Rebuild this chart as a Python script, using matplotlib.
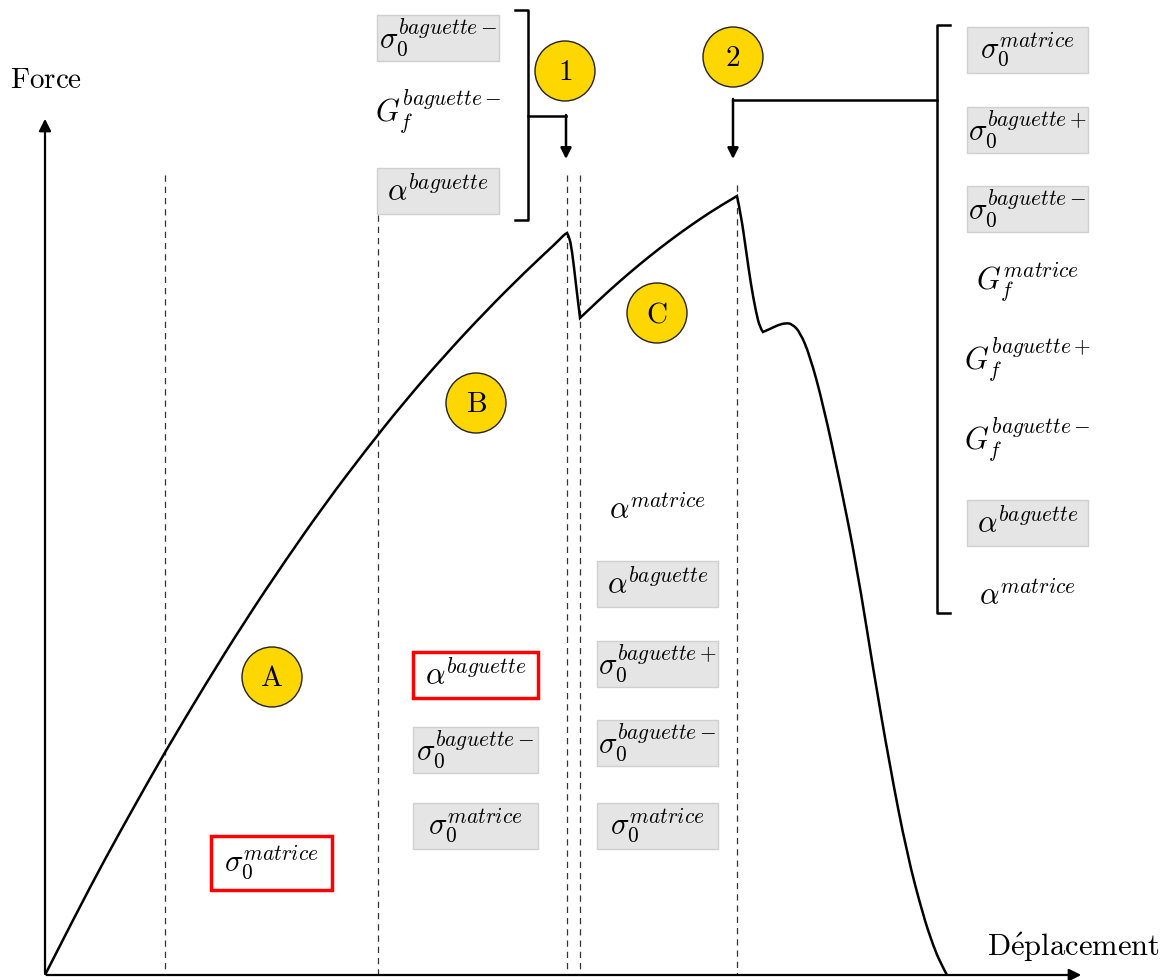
import matplotlib.pyplot as plt
from matplotlib.patches import Rectangle, Circle, PathPatch
from matplotlib.path import Path

plt.rcParams['mathtext.fontset'] = 'cm'

# force-displacement curve (image pixel coords, y down)
curve_x = [45, 75, 105, 135, 165, 205, 245, 285, 325, 365, 405, 445, 485, 525, 555, 561, 565, 567,
           569, 572, 576, 580,
           600, 620, 640, 660, 680, 700, 720, 737,
           741, 746, 751, 756, 760, 763, 770, 778, 786, 792, 800, 810, 823, 840, 857,
           873, 890, 907, 923, 933, 940, 947]
curve_y = [975, 916, 859, 805, 752, 685, 621, 561, 504, 451, 401, 355, 312, 272, 244, 238, 234, 233,
           236, 250, 285, 318,
           299, 281, 264, 248, 233, 219, 206, 196,
           215, 250, 285, 312, 328, 332, 329, 325, 323, 324, 332, 356, 404, 482, 568,
           668, 767, 854, 915, 945, 962, 975]
# kinks of the curve (peaks and drops)
corner_x = [567, 580, 737, 763]

phase_x = [165, 378, 567, 580, 737]
phase_top = [175, 170, 175, 175, 185]

circle_labels = ['A', 'B', 'C', '1', '2']
circle_x = [272, 476, 657, 565, 733]
circle_y = [677, 403, 313, 71, 57]

S0M = r'$\sigma_0^{matrice}$'
S0BP = r'$\sigma_0^{baguette+}$'
S0BM = r'$\sigma_0^{baguette-}$'
GFM = r'$G_f^{matrice}$'
GFBP = r'$G_f^{baguette+}$'
GFBM = r'$G_f^{baguette-}$'
AB = r'$\alpha^{baguette}$'
AM = r'$\alpha^{matrice}$'

# (label, style) for each group: g = grey box, r = red box, n = plain
col_a = [(S0M, 'r')]
col_b = [(AB, 'r'), (S0BM, 'g'), (S0M, 'g')]
col_c = [(AM, 'n'), (AB, 'g'), (S0BP, 'g'), (S0BM, 'g'), (S0M, 'g')]
grp_1 = [(S0BM, 'g'), (GFBM, 'n'), (AB, 'g')]
grp_2 = [(S0M, 'g'), (S0BP, 'g'), (S0BM, 'g'), (GFM, 'n'), (GFBP, 'n'), (GFBM, 'n'), (AB, 'g'), (AM, 'n')]

fig = plt.figure(figsize=(11.67, 9.8), dpi=100)
ax = fig.add_axes([0, 0, 1, 1])
ax.set_xlim(0, 1167)
ax.set_ylim(980, 0)
ax.axis('off')

# axes arrows
ax.annotate('', xy=(45, 116), xytext=(45, 976),
            arrowprops=dict(arrowstyle='-|>', lw=1.6, color='black', mutation_scale=18))
ax.annotate('', xy=(1084, 975), xytext=(44, 975),
            arrowprops=dict(arrowstyle='-|>', lw=1.6, color='black', mutation_scale=18))
ax.text(46, 80, r'$\mathrm{Force}$', fontsize=21, ha='center', va='center')
ax.text(1073, 947, r'$\mathrm{D\acute{e}placement}$', fontsize=22, ha='center', va='center')

for x, t in zip(phase_x, phase_top):
    ax.plot([x, x], [t, 975], ls=(0, (5, 4)), lw=0.9, color='#333333', zorder=1)


def smooth_path(xs, ys, corners):
    # quadratic bezier through midpoints, kept sharp at the corners
    pts = list(zip(xs, ys))
    segs, cur = [], [pts[0]]
    for p in pts[1:]:
        cur.append(p)
        if p[0] in corners:
            segs.append(cur)
            cur = [p]
    if len(cur) > 1:
        segs.append(cur)
    verts, codes = [pts[0]], [Path.MOVETO]
    for s in segs:
        if len(s) == 2:
            verts.append(s[1])
            codes.append(Path.LINETO)
            continue
        for i in range(1, len(s) - 1):
            if i == len(s) - 2:
                end = s[i + 1]
            else:
                end = ((s[i][0] + s[i + 1][0]) / 2, (s[i][1] + s[i + 1][1]) / 2)
            verts += [s[i], end]
            codes += [Path.CURVE3, Path.CURVE3]
    return Path(verts, codes)


ax.add_patch(PathPatch(smooth_path(curve_x, curve_y, corner_x), fill=False,
                       edgecolor='black', lw=1.8, zorder=3))

for lab, x, y in zip(circle_labels, circle_x, circle_y):
    ax.add_patch(Circle((x, y), 30, facecolor='#FFD700', edgecolor='#222222', lw=1, zorder=4))
    ax.text(x, y + 1, r'$\mathrm{%s}$' % lab, fontsize=21, ha='center', va='center', zorder=5)


def draw_group(items, x0, w, ys, h=46):
    for (lab, style), yc in zip(items, ys):
        if style == 'g':
            ax.add_patch(Rectangle((x0, yc - h / 2), w, h, facecolor='#E5E5E5',
                                   edgecolor='#CFCFCF', lw=1, zorder=4))
        elif style == 'r':
            ax.add_patch(Rectangle((x0, yc - h / 2), w, h, facecolor='white',
                                   edgecolor='red', lw=2.5, zorder=4))
        ax.text(x0 + w / 2, yc, lab, fontsize=22, ha='center', va='center', zorder=5)


draw_group(col_a, 211, 121, [863], h=54)
draw_group(col_b, 413, 125, [675, 750, 826])
draw_group(col_c, 597, 121, [510, 584, 664, 743, 826])
draw_group(grp_1, 377, 122, [38, 112, 191])
draw_group(grp_2, 967, 121, [50, 130, 209, 282, 360, 440, 523, 596])

# bracket 1
ax.plot([515, 528, 528, 515], [10, 10, 220, 220], color='black', lw=1.8)
ax.plot([528, 566], [116, 116], color='black', lw=1.8)
ax.annotate('', xy=(566, 159), xytext=(566, 115),
            arrowprops=dict(arrowstyle='-|>', lw=1.8, color='black', mutation_scale=16,
                            shrinkA=0, shrinkB=0))

# bracket 2
ax.plot([950, 937, 937, 950], [25, 25, 613, 613], color='black', lw=1.8)
ax.plot([937, 733], [100, 100], color='black', lw=1.8)
ax.annotate('', xy=(733, 159), xytext=(733, 99),
            arrowprops=dict(arrowstyle='-|>', lw=1.8, color='black', mutation_scale=16,
                            shrinkA=0, shrinkB=0))

fig.savefig('out.png', dpi=100)
